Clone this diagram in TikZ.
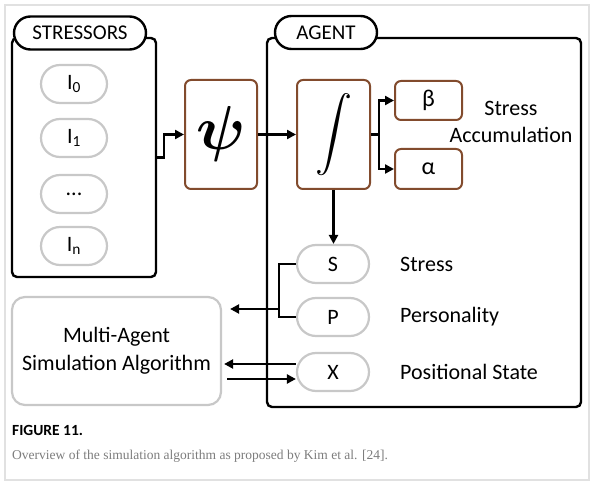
\documentclass[tikz,border=0pt]{standalone}
\usepackage{fontspec}
\setmainfont{Carlito}
\newfontfamily\capfont{Liberation Serif}
\usetikzlibrary{arrows.meta,calc,shapes.misc}
\definecolor{brn}{RGB}{130,75,45}
\definecolor{pillgray}{RGB}{200,200,200}
\definecolor{capgray}{RGB}{125,125,125}
\definecolor{framegray}{RGB}{225,225,225}
\tikzset{
  bigbox/.style={draw=black, line width=2.4pt, rounded corners=5pt, fill=white, inner sep=0pt},
  tabpill/.style={draw=black, line width=2.4pt, rounded rectangle, fill=white, inner sep=0pt, font=\fontsize{21}{24}\selectfont},
  pill/.style={draw=pillgray, line width=2.2pt, rounded rectangle, fill=white, inner sep=0pt, minimum width=66pt, minimum height=38pt, font=\fontsize{22}{26}\selectfont},
  brbox/.style={draw=brn, line width=2pt, rounded corners=6pt, fill=white, inner sep=0pt},
  lbl/.style={font=\fontsize{22}{27}\selectfont, inner sep=0pt},
  arr/.style={line width=2.4pt, -{Triangle[length=9pt,width=9pt]}},
  ln/.style={line width=2.4pt}
}
\begin{document}
\begin{tikzpicture}[x=1pt,y=-1pt]
\useasboundingbox (0,0) rectangle (594,486);
\fill[white] (0,0) rectangle (594,486);
\draw[framegray, line width=1.2pt] (5,5) rectangle (589,480);
% stressors
\node[bigbox, minimum width=144pt, minimum height=239pt] (stbox) at (84,157.5) {};
\node[tabpill, minimum width=132pt, minimum height=33pt] (sttab) at (80,33) {STRESSORS};
\node[pill] (i0) at (74,84) {I\textsubscript{0}};
\node[pill] (i1) at (74,138) {I\textsubscript{1}};
\node[pill] (i2) at (74,194) {...};
\node[pill] (in) at (74,246) {I\textsubscript{n}};
% psi
\node[brbox, minimum width=72pt, minimum height=109pt] (psi) at (221,134.5) {\scalebox{6.2}{\boldmath$\psi$}};
% agent
\node[bigbox, minimum width=314pt, minimum height=369pt] (agent) at (424,222.5) {};
\node[tabpill, minimum width=102pt, minimum height=33pt] (agtab) at (326,32.5) {AGENT};
\node[brbox, minimum width=73pt, minimum height=109pt] (int) at (333.5,134.5) {\scalebox{3.7}{$\displaystyle\int$}};
\node[brbox, minimum width=67pt, minimum height=39pt, font=\fontsize{24}{26}\selectfont] (beta) at (428.5,100.5) {β};
\node[brbox, minimum width=67pt, minimum height=40pt, font=\fontsize{24}{26}\selectfont] (alpha) at (428.5,169) {α};
\node[lbl, align=center] (sacc) at (511,121.5) {Stress\\Accumulation};
\node[pill, minimum width=72pt] (S) at (333,264) {S};
\node[pill, minimum width=72pt] (P) at (333,317) {P};
\node[pill, minimum width=72pt] (X) at (333,372) {X};
\node[lbl, anchor=west] (ls) at (400,264) {Stress};
\node[lbl, anchor=west] (lp) at (400,317) {Personality};
\node[lbl, anchor=west] (lx) at (400,372) {Positional State};
% multi-agent
\node[draw=pillgray, line width=2.2pt, rounded corners=13pt, minimum width=209pt, minimum height=108pt, inner sep=0pt, align=center, font=\fontsize{22}{28}\selectfont] (ma) at (116.5,351) {Multi-Agent\\Simulation Algorithm};
% connectors
\draw[arr] (stbox.east) -- ++(7,0) |- (psi.west);
\draw[arr] (psi.east) -- (int.west);
\draw[ln] (int.east) -- ++(8,0) coordinate (br);
\draw[arr] (br) |- (beta.west);
\draw[arr] (br) |- (alpha.west);
\draw[arr] (int.south) -- (int.south |- S.north);
\draw[ln] (S.west) -- ++(-17,0) coordinate (sp) |- (P.west);
\coordinate (spa) at ($(sp)+(0,45)$);
\draw[arr, shorten >=8pt] (spa) -- (spa -| ma.east);
\coordinate (xa) at ($(X.west)+(0,-8)$);
\draw[arr, shorten >=2pt] (xa) -- (xa -| ma.east);
\coordinate (xb) at ($(X.west)+(0,7)$);
\draw[arr, shorten <=5pt] (xb -| ma.east) -- (xb);
% caption
\node[anchor=west, inner sep=0pt, font=\fontsize{15.5}{18}\selectfont\bfseries] (fig) at (12,430) {FIGURE 11.};
\node[anchor=west, inner sep=0pt, text=capgray, font=\capfont\fontsize{13.5}{16}\selectfont] (cap) at (12,456) {Overview of the simulation algorithm as proposed by Kim et al. [24].};
\end{tikzpicture}
\end{document}
